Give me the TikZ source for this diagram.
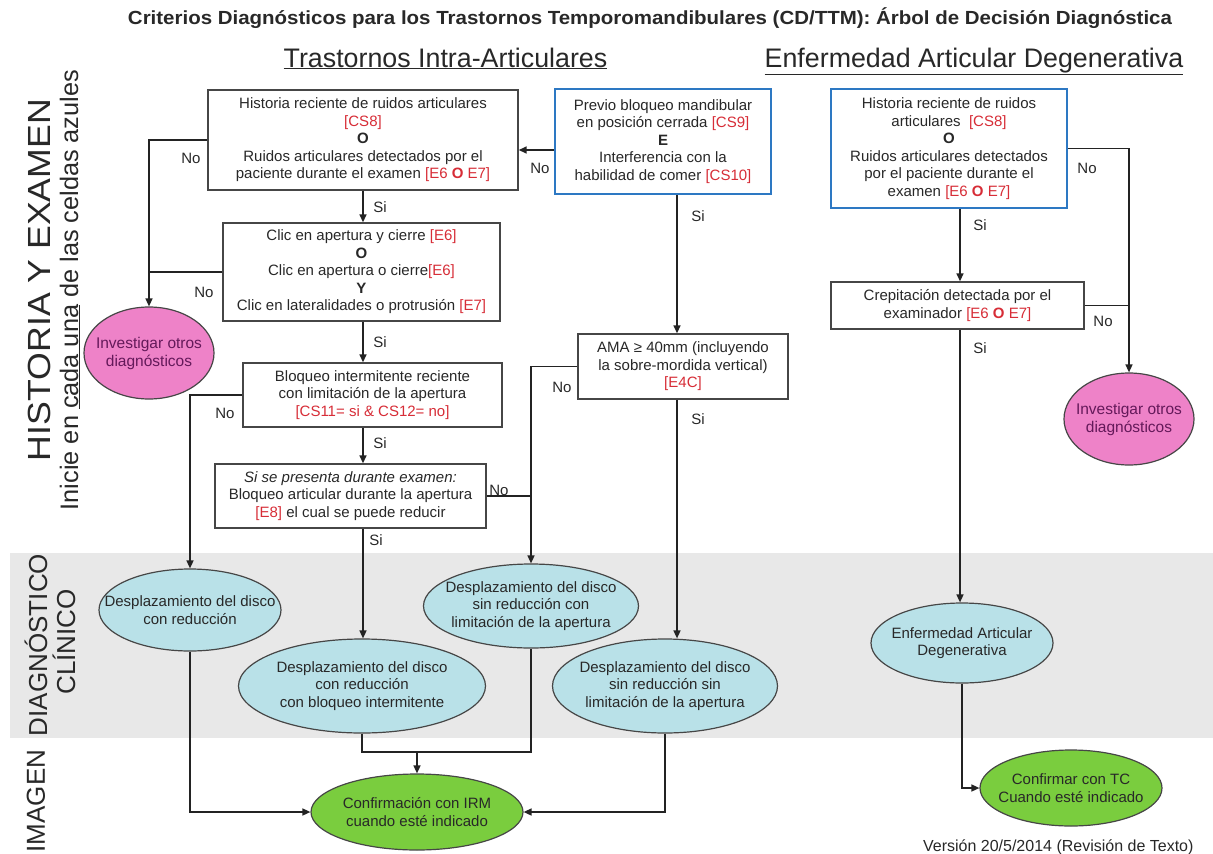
\documentclass[tikz,border=0pt]{standalone}
\usepackage{fontspec}
\setmainfont{Liberation Sans}
\usepackage{graphicx}
\usetikzlibrary{shapes.geometric,arrows.meta,calc}
\definecolor{refred}{RGB}{215,45,55}
\definecolor{boxln}{RGB}{70,70,70}
\definecolor{blueln}{RGB}{45,120,195}
\definecolor{lnc}{RGB}{35,35,35}
\definecolor{txt}{RGB}{40,40,40}
\definecolor{pinkfill}{RGB}{238,130,200}
\definecolor{pinktxt}{RGB}{100,25,90}
\definecolor{cyanfill}{RGB}{185,225,232}
\definecolor{greenfill}{RGB}{122,205,62}
\definecolor{bandgray}{RGB}{232,232,232}
\newcommand\myref[1]{\textcolor{refred}{#1}}
\begin{document}
\begin{tikzpicture}[x=1pt,y=-1pt,
  every node/.style={font=\fontsize{15}{17.5}\selectfont, text=txt},
  box/.style={draw=boxln, line width=1.4pt, fill=white, align=center, inner sep=2pt},
  bluebox/.style={box, draw=blueln, line width=2.8pt},
  oval/.style={ellipse, line width=1.2pt, inner sep=0pt},
  dxoval/.style={oval, draw=boxln, fill=cyanfill},
  pinkoval/.style={oval, draw=boxln, fill=pinkfill},
  greenoval/.style={oval, draw=boxln, fill=greenfill},
  otxt/.style={align=center, inner sep=0pt},
  conn/.style={draw=lnc, line width=1.5pt},
  arr/.style={conn, -{Triangle[length=8pt,width=7pt]}},
  yn/.style={inner sep=0pt},
  side/.style={rotate=90, inner sep=0pt, text=txt},
]
\useasboundingbox (0,0) rectangle (1213,854);
\fill[white] (0,0) rectangle (1213,854);
\fill[bandgray] (10,553) rectangle (1213,738);

% titles
\node (title) at (650,18) {\resizebox{1044pt}{\height}{\fontsize{19}{21}\selectfont\bfseries Criterios Diagnósticos para los Trastornos Temporomandibulares (CD/TTM): Árbol de Decisión Diagnóstica}};
\node[anchor=base] (h1) at (445.5,67) {\fontsize{26.8}{30}\selectfont\underline{Trastornos Intra-Articulares}};
\node[anchor=base] (h2) at (974,67) {\fontsize{26.8}{30}\selectfont\underline{Enfermedad Articular Degenerativa}};

% side labels
\node[side] (s1) at (39,280) {\resizebox{362pt}{\height}{\fontsize{32}{34}\selectfont HISTORIA Y EXAMEN}};
\node[side] (s2) at (70,290) {\fontsize{25.3}{28}\selectfont Inicie en \underline{cada una} de las celdas azules};
\node[side] (s3) at (36,645) {\resizebox{182pt}{\height}{\fontsize{26}{28}\selectfont DIAGNÓSTICO}};
\node[side] (s4) at (64,642) {\fontsize{26}{28}\selectfont CLÍNICO};
\node[side] (s5) at (36,801) {\fontsize{26}{28}\selectfont IMAGEN};

% boxes
\node[box, minimum width=310, minimum height=100] (b1) at (363,140) {Historia reciente de ruidos articulares\\ \myref{[CS8]}\\ \textbf{O}\\ Ruidos articulares detectados por el\\ paciente durante el examen \myref{[E6 \textbf{O} E7]}};
\node[box, minimum width=277, minimum height=98] (b2) at (361.5,272) {Clic en apertura y cierre \myref{[E6]}\\ \textbf{O}\\ Clic en apertura o cierre\myref{[E6]}\\ \textbf{Y}\\ Clic en lateralidades o protrusión \myref{[E7]}};
\node[box, minimum width=259, minimum height=64] (b3) at (372.5,395) {Bloqueo intermitente reciente\\ con limitación de la apertura\\ \myref{[CS11= si \& CS12= no]}};
\node[box, minimum width=271, minimum height=64] (b4) at (350.5,496) {\textit{Si se presenta durante examen:}\\ Bloqueo articular durante la apertura\\ \myref{[E8]} el cual se puede reducir};
\node[bluebox, minimum width=216, minimum height=105] (bl2) at (663,141.5) {Previo bloqueo mandibular\\ en posición cerrada \myref{[CS9]}\\ \textbf{E}\\ Interferencia con la\\ habilidad de comer \myref{[CS10]}};
\node[box, minimum width=210, minimum height=65] (ama) at (683,366.5) {AMA ≥ 40mm (incluyendo\\ la sobre-mordida vertical)\\ \myref{[E4C]}};
\node[bluebox, minimum width=236, minimum height=119] (bl3) at (949,148.5) {Historia reciente de ruidos\\ articulares \ \myref{[CS8]}\\ \textbf{O}\\ Ruidos articulares detectados\\ por el paciente durante el\\ examen \myref{[E6 \textbf{O} E7]}};
\node[box, minimum width=253, minimum height=47] (crep) at (957.5,305.5) {Crepitación detectada por el\\ examinador \myref{[E6 \textbf{O} E7]}};

% ovals
\node[pinkoval, minimum width=130, minimum height=92] (p1) at (149,353) {};
\node[otxt, text=pinktxt, font=\fontsize{15.5}{18}\selectfont] (p1t) at (p1) {Investigar otros\\ diagnósticos};
\node[pinkoval, minimum width=130, minimum height=92] (p2) at (1129,419) {};
\node[otxt, text=pinktxt, font=\fontsize{15.5}{18}\selectfont] (p2t) at (p2) {Investigar otros\\ diagnósticos};
\node[dxoval, minimum width=182, minimum height=82] (dd1) at (190,610) {};
\node[otxt] (dd1t) at (dd1) {Desplazamiento del disco\\ con reducción};
\node[dxoval, minimum width=247, minimum height=94] (dd2) at (362,686) {};
\node[otxt] (dd2t) at (dd2) {Desplazamiento del disco\\ con reducción\\ con bloqueo intermitente};
\node[dxoval, minimum width=215, minimum height=84] (dd3) at (531,606) {};
\node[otxt] (dd3t) at (dd3) {Desplazamiento del disco\\ sin reducción con\\ limitación de la apertura};
\node[dxoval, minimum width=225, minimum height=94] (dd4) at (665,686) {};
\node[otxt] (dd4t) at (dd4) {Desplazamiento del disco\\ sin reducción sin\\ limitación de la apertura};
\node[dxoval, minimum width=182, minimum height=80] (deg) at (962,643) {};
\node[otxt] (degt) at (deg) {Enfermedad Articular\\ Degenerativa};
\node[greenoval, minimum width=212, minimum height=76] (irm) at (417,812) {};
\node[otxt] (irmt) at (irm) {Confirmación con IRM\\ cuando esté indicado};
\node[greenoval, minimum width=182, minimum height=76] (tc) at (1071,788) {};
\node[otxt] (tct) at (tc) {Confirmar con TC\\ Cuando esté indicado};

% helper coordinates
\coordinate (xc) at (363,0);
\coordinate (xr) at (677,0);
\coordinate (xe) at (960,0);
\coordinate (yA) at (0,150);
\coordinate (ym) at (0,752);

% connectors left tree
\draw[arr] (bl2.west |- yA) -- (b1.east |- yA);
\draw[arr] (b1.south -| xc) -- (b2.north -| xc);
\draw[arr] (b1.west) -| (p1.north);
\draw[conn] (b2.west) -- (b2.west -| p1.north);
\draw[arr] (b2.south -| xc) -- (b3.north -| xc);
\draw[arr] (b3.south -| xc) -- (b4.north -| xc);
\draw[arr] (b3.west) -| (dd1.north);
\draw[arr] (b4.south -| xc) -- (dd2.north -| xc);
\draw[conn] (b4.east) -- (b4.east -| dd3.north);
\draw[arr] (bl2.south -| xr) -- (ama.north -| xr);
\draw[arr] (ama.west) -| (dd3.north);
\draw[arr] (ama.south -| xr) -- (dd4.north -| xr);
% right tree
\draw[arr] (bl3.south -| xe) -- (crep.north -| xe);
\draw[arr] (bl3.east) -| (p2.north);
\draw[conn] (crep.east) -- (crep.east -| p2.north);
\draw[arr] (crep.south -| xe) -- (deg.north -| xe);
% imaging
\draw[arr] (dd1.south) |- (irm.west);
\draw[conn] (dd2.south) -- (dd2.south |- ym) -- (dd3.south |- ym) -- (dd3.south);
\draw[arr] (irm.north |- ym) -- (irm.north);
\draw[arr] (dd4.south) |- (irm.east);
\draw[arr] (deg.south) |- (tc.west);

% yes / no labels
\node[yn] (n1) at (540,168) {No};
\node[yn] (n2) at (380,207) {Si};
\node[yn] (n3) at (191,158) {No};
\node[yn] (n4) at (204,292) {No};
\node[yn] (n5) at (380,342) {Si};
\node[yn] (n6) at (380,443) {Si};
\node[yn] (n7) at (225,413) {No};
\node[yn] (n8) at (376,540) {Si};
\node[yn] (n9) at (499,490) {No};
\node[yn] (n10) at (698,216) {Si};
\node[yn] (n11) at (562,387) {No};
\node[yn] (n12) at (698,419) {Si};
\node[yn] (n13) at (980,225) {Si};
\node[yn] (n14) at (1087,168) {No};
\node[yn] (n15) at (1103,321) {No};
\node[yn] (n16) at (980,348) {Si};

\node[anchor=base east, font=\fontsize{16}{18}\selectfont] (ver) at (1197,851) {Versión 20/5/2014 (Revisión de Texto)};
\end{tikzpicture}
\end{document}
